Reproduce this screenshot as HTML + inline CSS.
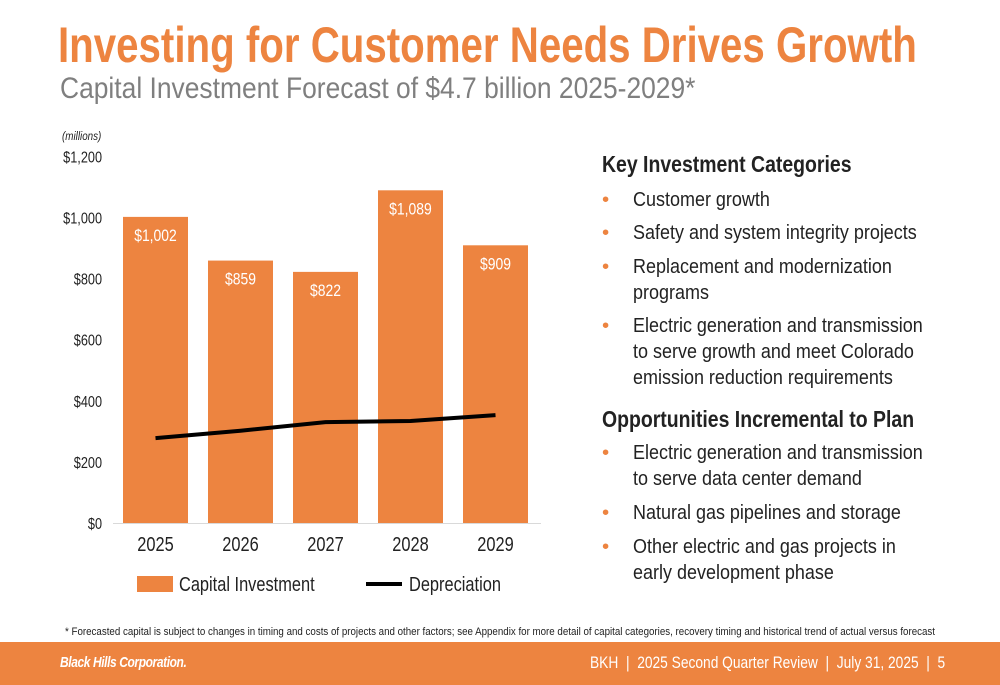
<!DOCTYPE html>
<html><head><meta charset="utf-8"><style>
body{margin:0;width:1000px;height:685px;position:relative;background:#fff;font-family:"Liberation Sans",sans-serif;overflow:hidden}
.t{position:absolute;white-space:nowrap}
.n{display:inline-block;transform-origin:0 0}
#title{left:58px;top:16px;font-size:50px;font-weight:bold;color:#ed8440}
#sub{left:60px;top:72px;font-size:30px;color:#7f7f7f}
.h{font-size:23px;font-weight:bold;color:#222}
.h .n{transform:scaleX(.845)}
.b{font-size:20.5px;color:#222;line-height:26px}
.b .n{transform:scaleX(.877)}
.dot{position:absolute;left:-31px;color:#ed8440}
#footer{position:absolute;left:0;top:642px;width:1000px;height:43px;background:#ed8440}
svg text{transform-box:fill-box;transform-origin:center;transform:scaleX(.82)}
</style></head><body>
<div class="t" id="title"><span class="n" style="transform:scaleX(.805)">Investing for Customer Needs Drives Growth</span></div>
<div class="t" id="sub"><span class="n" style="transform:scaleX(.88)">Capital Investment Forecast of $4.7 billion 2025-2029*</span></div>
<svg width="560" height="610" style="position:absolute;left:0;top:0" id="chart"></svg>
<div class="t h" style="left:602px;top:151px"><span class="n">Key Investment Categories</span></div>
<div class="t b" style="left:633px;top:187px"><span class="dot">•</span><span class="n">Customer growth</span></div>
<div class="t b" style="left:633px;top:220px"><span class="dot">•</span><span class="n">Safety and system integrity projects</span></div>
<div class="t b" style="left:633px;top:254px"><span class="dot">•</span><span class="n">Replacement and modernization<br>programs</span></div>
<div class="t b" style="left:633px;top:313px"><span class="dot">•</span><span class="n">Electric generation and transmission<br>to serve growth and meet Colorado<br>emission reduction requirements</span></div>
<div class="t h" style="left:602px;top:406px"><span class="n">Opportunities Incremental to Plan</span></div>
<div class="t b" style="left:633px;top:440px"><span class="dot">•</span><span class="n">Electric generation and transmission<br>to serve data center demand</span></div>
<div class="t b" style="left:633px;top:500px"><span class="dot">•</span><span class="n">Natural gas pipelines and storage</span></div>
<div class="t b" style="left:633px;top:534px"><span class="dot">•</span><span class="n">Other electric and gas projects in<br>early development phase</span></div>
<div class="t" style="left:65px;top:626px;font-size:11px;color:#222"><span class="n" style="transform:scaleX(.886)">* Forecasted capital is subject to changes in timing and costs of projects and other factors; see Appendix for more detail of capital categories, recovery timing and historical trend of actual versus forecast</span></div>
<div id="footer">
<div class="t" style="left:60px;top:12px;font-size:15px;font-weight:bold;font-style:italic;color:#fff;letter-spacing:-0.5px"><span class="n" style="transform:scaleX(.8)">Black Hills Corporation.</span></div>
<div class="t" style="left:590px;top:11px;font-size:17px;color:#fff"><span class="n" style="transform:scaleX(.81)">BKH &nbsp;|&nbsp; 2025 Second Quarter Review &nbsp;|&nbsp; July 31, 2025 &nbsp;|&nbsp; 5</span></div>
</div>
<script>
const categories=["2025","2026","2027","2028","2029"];
const capital=[1002,859,822,1089,909];
const capitalLabels=["$1,002","$859","$822","$1,089","$909"];
const depreciation=[278,302,330,334,353];
const yTicks=[0,200,400,600,800,1000,1200];
const yTickLabels=["$0","$200","$400","$600","$800","$1,000","$1,200"];
const svg=document.getElementById('chart');
const NS='http://www.w3.org/2000/svg';
const y0=523, pxPer=0.3055, x0=113, step=85, bw=65;
const Y=v=>y0-v*pxPer;
const Xc=i=>x0+step*i+step/2;
function mk(tag,attrs,txt){const e=document.createElementNS(NS,tag);for(const k in attrs)e.setAttribute(k,attrs[k]);if(txt!==undefined)e.textContent=txt;svg.appendChild(e);return e;}
const FF='"Liberation Sans",sans-serif';
let e=mk('text',{x:62,y:140,'font-size':12,'font-style':'italic','font-family':FF,fill:'#222',style:'transform-origin:left'},'(millions)');


yTicks.forEach((v,i)=>{const t=mk('text',{x:102,y:Y(v)+6,'font-size':15.5,'text-anchor':'end','font-family':FF,fill:'#222',style:'transform-origin:right'},yTickLabels[i]);

});
capital.forEach((v,i)=>{const r=mk('rect',{x:Xc(i)-bw/2,y:Y(v),width:bw,height:v*pxPer,fill:'#ed8440'});


const l=mk('text',{x:Xc(i),y:Y(v)+24,'font-size':17,'text-anchor':'middle','font-family':FF,fill:'#fff'},capitalLabels[i]);


const c=mk('text',{x:Xc(i),y:551,'font-size':20,'text-anchor':'middle','font-family':FF,fill:'#222'},categories[i]);

});
const ax=mk('line',{x1:x0,x2:x0+step*5+3,y1:y0+0.5,y2:y0+0.5,stroke:'#d9d9d9','stroke-width':1});


const pl=mk('polyline',{points:depreciation.map((v,i)=>Xc(i)+','+Y(v)).join(' '),fill:'none',stroke:'#000','stroke-width':4});


const lr=mk('rect',{x:137,y:576,width:36,height:16,fill:'#ed8440'});


const lt=mk('text',{x:179,y:591,'font-size':20,'font-family':FF,fill:'#222',style:'transform-origin:left'},'Capital Investment');


const ll=mk('line',{x1:366,x2:402,y1:584,y2:584,stroke:'#000','stroke-width':4});


const lt2=mk('text',{x:409,y:591,'font-size':20,'font-family':FF,fill:'#222',style:'transform-origin:left'},'Depreciation');


</script>
</body></html>
